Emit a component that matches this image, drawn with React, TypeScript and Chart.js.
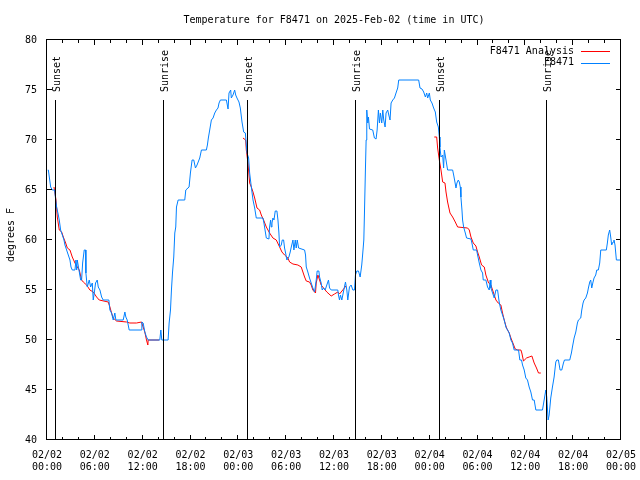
import React, { useEffect, useRef } from "react";
import { Chart, registerables } from "chart.js";

Chart.register(...registerables);

const FONT = '"DejaVu Sans Mono", "Liberation Mono", monospace';

const titleText = "Temperature for F8471 on 2025-Feb-02 (time in UTC)";
const yAxisTitle = "degrees F";
const seriesNames = ["F8471 Analysis", "F8471"];
const seriesColors = ["#ff0000", "#0080ff"];

// x ticks every 6 hours starting 2025-02-02 00:00 UTC
const xTickHours = [0, 6, 12, 18, 24, 30, 36, 42, 48, 54, 60, 66, 72];
const xTickDates = ["02/02", "02/02", "02/02", "02/02", "02/03", "02/03", "02/03", "02/03", "02/04", "02/04", "02/04", "02/04", "02/05"];
const xTickTimes = ["00:00", "06:00", "12:00", "18:00", "00:00", "06:00", "12:00", "18:00", "00:00", "06:00", "12:00", "18:00", "00:00"];
const yTickValues = [40, 45, 50, 55, 60, 65, 70, 75, 80];

const sunsetHours = [1.15, 25.2, 49.27];
const sunriseHours = [14.68, 38.72, 62.78];
const sunLineTop = 74;
const sunLabelBase = 74.8;

// Observations F8471 (hours since 02/02 00:00 UTC, deg F)
const obsHours = [
  0.1, 0.17, 0.29, 0.46, 0.67, 0.96, 1.09, 1.21, 1.42, 1.54, 1.71, 1.92, 2.13, 2.25, 2.46, 2.67, 2.88, 3.01, 3.17, 3.51,
  3.63, 3.72, 3.8, 4.01, 4.22, 4.34, 4.47, 4.67, 4.84, 4.88, 5.05, 5.3, 5.47, 5.68, 5.8, 5.93, 6.09, 6.3, 6.43, 6.64,
  6.85, 7.05, 7.76, 7.89, 8.1, 8.31, 8.51, 8.64, 9.56, 9.77, 9.89, 10.06, 10.31, 11.85, 11.9, 12.06, 12.27, 12.48, 12.69, 14.15,
  14.28, 14.4, 15.19, 15.32, 15.49, 15.61, 15.74, 15.9, 16.03, 16.15, 16.24, 16.45, 17.28, 17.41, 17.82, 17.99, 18.2, 18.41, 18.62, 18.82,
  19.16, 19.37, 19.99, 20.12, 20.24, 20.41, 20.62, 20.83, 21.04, 21.25, 21.45, 21.58, 21.75, 22.5, 22.71, 22.83, 23.04, 23.12, 23.33, 23.54,
  23.67, 23.83, 24.08, 24.25, 24.46, 24.67, 24.88, 25.09, 25.29, 25.42, 25.63, 25.84, 26.05, 26.25, 27.09, 27.21, 27.51, 27.84, 27.92, 28.05,
  28.13, 28.22, 28.34, 28.47, 28.63, 28.84, 28.97, 29.09, 29.18, 29.39, 29.51, 29.68, 29.8, 29.93, 30.09, 30.34, 30.51, 30.64, 30.85, 30.97,
  31.14, 31.26, 31.39, 31.56, 32.31, 32.43, 32.52, 32.72, 32.93, 33.14, 33.35, 33.56, 33.77, 33.89, 34.1, 34.19, 34.39, 34.52, 34.69, 34.89,
  35.1, 35.31, 35.44, 35.65, 36.48, 36.56, 36.69, 36.81, 36.98, 37.23, 37.44, 37.61, 37.73, 37.94, 38.15, 38.36, 38.57, 38.69, 38.86, 39.07,
  39.28, 39.48, 39.61, 39.74, 39.82, 39.94, 40.03, 40.11, 40.24, 40.32, 40.45, 40.86, 41.07, 41.28, 41.41, 41.57, 41.7, 41.82, 41.99, 42.12,
  42.24, 42.41, 42.53, 42.74, 42.87, 43.03, 43.16, 43.37, 43.58, 43.78, 43.99, 44.12, 46.62, 46.79, 47.04, 47.25, 47.46, 47.63, 47.75, 47.96,
  48.08, 48.29, 48.5, 48.71, 48.88, 49.09, 49.21, 49.29, 49.42, 49.63, 49.75, 49.84, 50.05, 50.25, 50.88, 51.01, 51.17, 51.3, 51.42, 51.59,
  51.72, 51.84, 51.92, 52.05, 52.13, 52.26, 52.47, 52.63, 53.18, 53.3, 53.47, 53.89, 54.01, 54.22, 54.43, 54.64, 54.72, 55.05, 55.26, 55.47,
  55.6, 55.68, 55.89, 56.1, 56.31, 56.52, 56.72, 56.93, 57.14, 57.35, 57.56, 57.77, 57.98, 58.19, 58.39, 58.6, 59.15, 59.31, 59.52, 59.65,
  59.86, 60.06, 60.27, 60.48, 60.69, 60.9, 61.11, 61.32, 62.15, 62.36, 62.57, 62.69, 62.86, 62.99, 63.19, 63.4, 63.61, 63.82, 63.95, 64.15,
  64.36, 64.57, 64.78, 64.91, 65.57, 65.78, 65.91, 66.12, 66.33, 66.53, 66.66, 66.95, 67.08, 67.24, 67.37, 67.58, 67.79, 67.91, 68.08, 68.2,
  68.33, 68.49, 68.62, 68.83, 68.96, 69.16, 69.33, 69.46, 70.16, 70.29, 70.41, 70.58, 70.71, 70.83, 71.0, 71.12, 71.25, 71.42, 72.0,
];
const obsTemps = [
  67, 67, 66.3, 65.3, 65, 65, 64, 63.3, 62.5, 62, 61, 60.5, 60, 59.5, 59, 58.5, 58, 57.3, 57, 57,
  58, 57, 58, 57, 56, 56, 57.7, 59, 59, 56.7, 55.3, 56, 55.3, 55.7, 54, 54.7, 55.7, 56, 55.3, 55,
  54.3, 54, 54, 53, 52.7, 52, 52.7, 52, 52, 52.8, 52.3, 52, 51, 51, 51.8, 51.7, 50.8, 50.3, 50, 50,
  51, 50, 50, 51.7, 53, 55, 56.7, 58.3, 60.7, 61.3, 63.3, 64, 64, 65, 65.3, 66.7, 68, 68, 67.2, 67.5,
  68.2, 69, 69, 69.5, 70.2, 71, 72, 72.2, 72.7, 73, 73.2, 73.7, 74, 74, 73.1, 74.7, 75, 74.2, 74.5, 75,
  74.5, 74.2, 73.8, 73.2, 71.8, 70.8, 70.7, 68.7, 68.2, 66.7, 65.3, 64, 63.2, 62.2, 62.2, 61.7, 60.2, 60.1, 61.3, 62,
  61.3, 61.7, 62.2, 62, 62.9, 62.9, 62, 60.7, 59.3, 59.5, 60, 60, 59.2, 58.7, 58, 58.3, 58.8, 59.3, 60, 59,
  60, 59.2, 60, 59.2, 59, 58.5, 57.3, 56.8, 56.2, 55.7, 55.2, 54.8, 56, 56.9, 56.9, 56.3, 55.7, 55, 55.2, 55,
  55.5, 56, 55.2, 55, 55, 54.5, 54, 54.5, 54, 55, 55.8, 55, 54, 55.3, 55.5, 55, 55, 56.5, 56.9, 56.9,
  56.3, 57.5, 58.7, 60, 62.7, 67, 70, 73, 71.7, 72.3, 71.1, 71, 70.2, 70.1, 71, 73, 71.7, 72.7, 71.7, 73,
  72, 71.3, 72.7, 73, 72.5, 72, 73.7, 74, 74.2, 74.7, 75.2, 76, 76, 75.2, 75.1, 74.8, 74.3, 74.7, 74.2, 74.7,
  74, 73.7, 73.2, 72.8, 71.8, 71.3, 70.3, 69.3, 68.3, 68.5, 67.2, 69, 68, 67, 67, 66.5, 65.8, 65.2, 65.7, 66,
  65.8, 65.3, 64.3, 63, 62, 61.3, 60.7, 60.2, 60.1, 59.7, 59, 59, 58.5, 57.7, 57, 56.7, 56, 56, 55.3, 55,
  56, 55.2, 54.7, 54.2, 55, 55, 53.8, 53, 52.5, 52, 51.3, 51, 50.7, 50, 49.7, 49, 49, 48, 48, 47.5,
  47, 46.2, 46, 45.3, 44.8, 44, 44, 43, 43, 44, 45, 44.3, 42, 42.5, 44.2, 45.3, 46.3, 47.8, 48, 48,
  47, 47, 47.7, 48, 48, 48.7, 49.3, 50.2, 50.8, 51.7, 52, 52.2, 53, 53.7, 54, 54.2, 54.7, 55.2, 55.8, 56,
  55.2, 55.8, 56.2, 56.5, 57, 57, 57.7, 59, 59, 59.7, 60.5, 61, 60.3, 59.5, 59.8, 60, 59.5, 58, 58,
];

// Analysis F8471 (three nighttime segments)
const ana1Hours = [0.88, 1.13, 1.29, 1.54, 1.84, 2.05, 2.34, 2.55, 2.88, 3.17, 3.51, 3.8, 4.05, 4.34, 4.55, 4.97, 5.38, 5.8, 6.22, 6.55, 7.68, 7.89, 8.1, 8.31, 8.72, 9.98, 10.39, 11.23, 11.85, 12.06, 12.27, 12.48, 12.65, 12.69, 14.07];
const ana1Temps = [65.3, 64, 62.3, 61, 60.8, 60.3, 59.7, 59.2, 59, 58.3, 57.7, 57.3, 57, 56, 55.8, 55.5, 55, 54.8, 54.3, 54, 53.8, 53.3, 52.7, 52.2, 51.9, 51.8, 51.7, 51.7, 51.8, 51.3, 50.8, 50, 49.5, 50, 50];
const ana2Hours = [24.58, 24.92, 25.0, 25.21, 25.42, 25.63, 25.84, 26.05, 26.34, 26.67, 26.88, 27.17, 27.51, 27.92, 28.34, 28.76, 29.18, 29.47, 29.8, 30.22, 30.43, 30.85, 31.47, 31.89, 32.1, 32.31, 32.52, 32.93, 33.14, 33.35, 33.68, 33.77, 33.98, 34.19, 34.39, 34.69, 35.1, 35.65, 36.06, 36.48, 36.69, 37.1, 37.5];
const ana2Temps = [70.2, 70, 69, 67.7, 65.7, 65.3, 64.8, 64.2, 63.2, 63, 62.5, 62, 61.3, 60.7, 60.2, 60, 59.3, 58.8, 58.5, 58.2, 57.8, 57.6, 57.5, 57.3, 56.8, 56.3, 55.9, 55.8, 55.5, 55, 54.7, 55.7, 56.5, 56, 55.5, 55.2, 54.8, 54.4, 54.6, 54.8, 54.6, 55, 55.4];
const ana3Hours = [48.58, 48.88, 49.0, 49.21, 49.42, 49.63, 49.92, 50.05, 50.25, 50.55, 50.88, 51.21, 51.51, 52.76, 52.97, 53.18, 53.47, 53.8, 54.01, 54.22, 54.51, 54.85, 55.05, 55.39, 55.68, 55.89, 56.1, 56.31, 56.6, 56.93, 57.14, 57.35, 57.64, 57.98, 58.19, 58.39, 58.73, 59.02, 59.44, 59.56, 59.77, 60.15, 60.48, 60.82, 61.11, 61.4, 61.65, 61.94];
const ana3Temps = [70.3, 70.3, 69.2, 68, 67, 65.8, 65.7, 64.8, 63.8, 62.7, 62.3, 61.8, 61.3, 61.2, 61, 60.3, 59.7, 59.4, 58.8, 58.3, 57.5, 57.3, 56.5, 55.7, 55.5, 55, 54.5, 54, 53.7, 53.5, 52.7, 52, 51.2, 50.7, 50.2, 49.8, 49.1, 49, 49, 48.7, 47.9, 48.2, 48.3, 48.4, 47.7, 47.2, 46.7, 46.7];

const toPoints = (xs: number[], ys: number[]) => xs.map((x, i) => ({ x, y: ys[i] }));

const decorPlugin = {
  id: "gnuplotDecor",
  afterDraw(chart: any) {
    const { ctx, chartArea } = chart;
    const xs = chart.scales.x;
    const ys = chart.scales.y;
    const L = chartArea.left, R = chartArea.right, T = chartArea.top, B = chartArea.bottom;
    ctx.save();
    ctx.strokeStyle = "#000";
    ctx.fillStyle = "#000";
    ctx.lineWidth = 1;

    // sunrise / sunset markers
    ctx.font = `10px ${FONT}`;
    const drawSun = (h: number, label: string) => {
      const px = Math.round(xs.getPixelForValue(h)) - 0.5;
      ctx.strokeStyle = "#000";
      ctx.beginPath();
      ctx.moveTo(px, ys.getPixelForValue(sunLineTop));
      ctx.lineTo(px, B);
      ctx.stroke();
      ctx.save();
      ctx.translate(px + 2, ys.getPixelForValue(sunLabelBase));
      ctx.rotate(-Math.PI / 2);
      ctx.textAlign = "left";
      ctx.textBaseline = "middle";
      ctx.fillStyle = "#000";
      ctx.fillText(label, 0, 0);
      ctx.restore();
    };
    sunsetHours.forEach((h) => drawSun(h, "Sunset"));
    sunriseHours.forEach((h) => drawSun(h, "Sunrise"));

    // border
    ctx.strokeStyle = "#000";
    ctx.strokeRect(L - 0.5, T - 0.5, R - L, B - T);

    // ticks (inward, mirrored)
    ctx.beginPath();
    for (let h = 2; h < 72; h += 2) {
      const px = Math.round(xs.getPixelForValue(h)) - 0.5;
      const len = h % 6 === 0 ? 5 : 3;
      ctx.moveTo(px, B);
      ctx.lineTo(px, B - len);
      ctx.moveTo(px, T);
      ctx.lineTo(px, T + len);
    }
    yTickValues.forEach((v) => {
      if (v === 40 || v === 80) return;
      const py = Math.round(ys.getPixelForValue(v)) - 0.5;
      ctx.moveTo(L, py);
      ctx.lineTo(L + 5, py);
      ctx.moveTo(R, py);
      ctx.lineTo(R - 5, py);
    });
    ctx.stroke();

    // title
    ctx.fillStyle = "#000";
    ctx.font = `10px ${FONT}`;
    ctx.textAlign = "center";
    ctx.textBaseline = "middle";
    ctx.fillText(titleText, (L + R) / 2, T - 19.5);

    // y axis title
    ctx.save();
    ctx.translate(11, (T + B) / 2 - 5);
    ctx.rotate(-Math.PI / 2);
    ctx.textAlign = "center";
    ctx.textBaseline = "middle";
    ctx.fillText(yAxisTitle, 0, 0);
    ctx.restore();

    // legend
    ctx.textAlign = "right";
    ctx.textBaseline = "middle";
    seriesNames.forEach((name, i) => {
      const y = T + 11 + i * 11.5;
      ctx.fillStyle = "#000";
      ctx.fillText(name, R - 47, y);
      ctx.fillStyle = seriesColors[i];
      ctx.fillRect(R - 40, Math.round(y), 29, 1);
    });
    ctx.restore();
  },
};

export default function App() {
  const ref = useRef<HTMLCanvasElement | null>(null);

  useEffect(() => {
    if (!ref.current) return;
    const anaSegs = [
      toPoints(ana1Hours, ana1Temps),
      toPoints(ana2Hours, ana2Temps),
      toPoints(ana3Hours, ana3Temps),
    ];
    const chart = new Chart(ref.current, {
      type: "line",
      data: {
        datasets: [
          {
            label: seriesNames[1],
            data: toPoints(obsHours, obsTemps),
            borderColor: seriesColors[1],
            borderWidth: 1,
            pointRadius: 0,
            tension: 0,
          },
          ...anaSegs.map((seg) => ({
            label: seriesNames[0],
            data: seg,
            borderColor: seriesColors[0],
            borderWidth: 1,
            pointRadius: 0,
            tension: 0,
          })),
        ],
      },
      options: {
        animation: false,
        responsive: false,
        maintainAspectRatio: false,
        layout: { padding: { top: 40, right: 19, bottom: 0, left: 0 } },
        plugins: {
          legend: { display: false },
          title: { display: false },
          tooltip: { enabled: false },
        },
        scales: {
          x: {
            type: "linear",
            min: 0,
            max: 72,
            afterFit: (s: any) => {
              s.height = 40;
              s.paddingLeft = 0;
              s.paddingRight = 0;
            },
            afterBuildTicks: (s: any) => {
              s.ticks = xTickHours.map((v) => ({ value: v }));
            },
            grid: { display: false, drawTicks: false },
            border: { display: false },
            ticks: {
              autoSkip: false,
              maxRotation: 0,
              minRotation: 0,
              padding: 9,
              color: "#000",
              font: { family: FONT, size: 10, lineHeight: 1.25 },
              callback: (v: any) => {
                const i = xTickHours.indexOf(Number(v));
                return i >= 0 ? [xTickDates[i], xTickTimes[i]] : "";
              },
            },
          },
          y: {
            type: "linear",
            min: 40,
            max: 80,
            afterFit: (s: any) => {
              s.width = 47;
              s.paddingTop = 0;
              s.paddingBottom = 0;
            },
            afterBuildTicks: (s: any) => {
              s.ticks = yTickValues.map((v) => ({ value: v }));
            },
            grid: { display: false, drawTicks: false },
            border: { display: false },
            ticks: {
              padding: 10,
              color: "#000",
              font: { family: FONT, size: 10 },
              callback: (v: any) => String(v),
            },
          },
        },
      },
      plugins: [decorPlugin],
    });
    return () => chart.destroy();
  }, []);

  return (
    <div style={{ position: "absolute", left: 0, top: 0, width: 640, height: 480, background: "#fff" }}>
      <canvas ref={ref} width={640} height={480} style={{ display: "block", width: 640, height: 480 }} />
    </div>
  );
}
